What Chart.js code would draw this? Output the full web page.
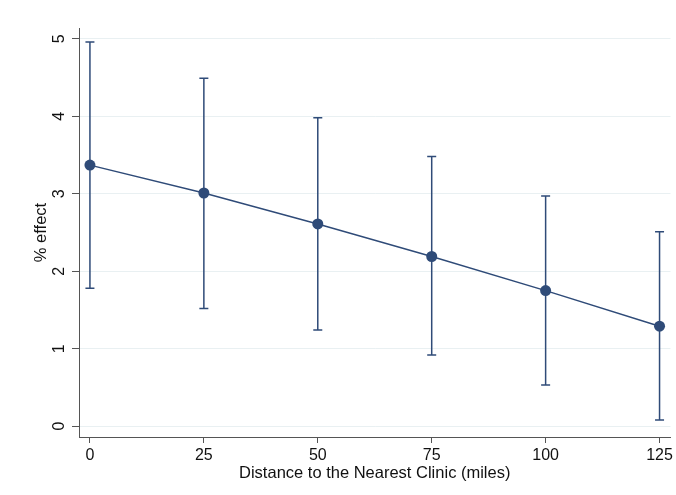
<!DOCTYPE html>
<html>
<head>
<meta charset="utf-8">
<script src="https://cdn.jsdelivr.net/npm/chart.js@4/dist/chart.umd.min.js"></script>
<style>
  html, body { margin: 0; padding: 0; background: #ffffff; }
  #wrap { width: 676px; height: 495px; position: relative; }
</style>
</head>
<body>
<div id="wrap"><canvas id="c" width="676" height="495"></canvas></div>
<script>
// Distance to the nearest clinic (miles)
const distances = [0, 25, 50, 75, 100, 125];
// Point estimates of the effect (%)
const effect = [3.37, 3.01, 2.61, 2.19, 1.75, 1.29];
// Confidence interval bounds
const lowerCI = [1.78, 1.52, 1.24, 0.92, 0.53, 0.08];
const upperCI = [4.96, 4.49, 3.98, 3.48, 2.97, 2.51];
// Axis tick values
const xTicks = [0, 25, 50, 75, 100, 125];
const yTicks = [0, 1, 2, 3, 4, 5];

const NAVY = '#2f4b78';
const FAMILY = '"Liberation Sans", Arial, Helvetica, sans-serif';
const TICK_FONT = { family: FAMILY, size: 16 };
const TITLE_FONT = { family: FAMILY, size: 16.5 };

const points = distances.map((d, i) => ({ x: d, y: effect[i], lo: lowerCI[i], hi: upperCI[i] }));

// Draws the vertical confidence-interval bars with caps behind the markers
const errorBars = {
  id: 'errorBars',
  beforeDatasetsDraw(chart) {
    const { ctx, scales: { x, y } } = chart;
    const cap = 4.5;
    ctx.save();
    ctx.strokeStyle = NAVY;
    ctx.lineWidth = 1.5;
    points.forEach(p => {
      const px = x.getPixelForValue(p.x);
      const top = y.getPixelForValue(p.hi);
      const bot = y.getPixelForValue(p.lo);
      ctx.beginPath();
      ctx.moveTo(px, top); ctx.lineTo(px, bot);
      ctx.moveTo(px - cap, top); ctx.lineTo(px + cap, top);
      ctx.moveTo(px - cap, bot); ctx.lineTo(px + cap, bot);
      ctx.stroke();
    });
    ctx.restore();
  }
};

new Chart(document.getElementById('c'), {
  type: 'line',
  data: {
    datasets: [{
      data: points,
      borderColor: NAVY,
      backgroundColor: NAVY,
      borderWidth: 1.5,
      pointRadius: 5.5,
      pointHoverRadius: 5.5,
      pointBorderWidth: 0,
      tension: 0
    }]
  },
  options: {
    responsive: false,
    animation: false,
    devicePixelRatio: 1,
    layout: { padding: { top: 28, right: 5, bottom: 0, left: 0 } },
    plugins: { legend: { display: false }, tooltip: { enabled: false } },
    scales: {
      x: {
        type: 'linear',
        min: -2.4,
        max: 127.4,
        afterBuildTicks: s => { s.ticks = xTicks.map(v => ({ value: v })); },
        afterFit: s => { s.height = 58; },
        border: { display: true, color: '#555555', width: 1 },
        grid: { drawOnChartArea: false, drawTicks: true, tickLength: 6, tickColor: '#555555' },
        ticks: { color: '#111111', font: TICK_FONT, padding: 3, maxRotation: 0 },
        title: {
          display: true,
          text: 'Distance to the Nearest Clinic (miles)',
          color: '#111111',
          font: TITLE_FONT,
          padding: { top: 0, bottom: 12 }
        }
      },
      y: {
        type: 'linear',
        min: -0.14,
        max: 5.14,
        afterBuildTicks: s => { s.ticks = yTicks.map(v => ({ value: v })); },
        afterFit: s => { s.width = 79; },
        border: { display: true, color: '#555555', width: 1 },
        grid: { drawOnChartArea: true, color: '#e9f0f2', lineWidth: 1, drawTicks: true, tickLength: 7, tickColor: '#555555' },
        ticks: { color: '#111111', font: TICK_FONT, padding: 7.5, minRotation: 90, maxRotation: 90, crossAlign: 'center' },
        title: {
          display: true,
          text: '% effect',
          color: '#111111',
          font: TITLE_FONT,
          padding: { top: 32, bottom: 0 }
        }
      }
    }
  },
  plugins: [errorBars]
});
</script>
</body>
</html>
